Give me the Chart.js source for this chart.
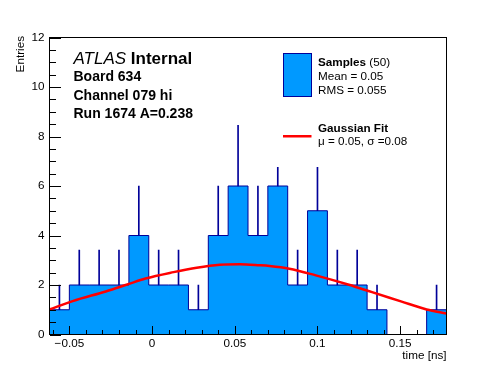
<!DOCTYPE html>
<html>
<head>
<meta charset="utf-8">
<script src="https://cdn.jsdelivr.net/npm/chart.js@4"></script>
<style>
  body { margin: 0; background: #fff; }
</style>
</head>
<body>
<canvas id="myChart" width="496" height="372"></canvas>
<script>
// histogram bins (time in ns)
const binEdges = [-0.062, -0.050, -0.038, -0.026, -0.014, -0.002, 0.010, 0.022, 0.034, 0.046,
  0.058, 0.070, 0.082, 0.094, 0.106, 0.118, 0.130, 0.142, 0.154, 0.166, 0.178];
const binCenters = [-0.056, -0.044, -0.032, -0.020, -0.008, 0.004, 0.016, 0.028, 0.040, 0.052,
  0.064, 0.076, 0.088, 0.100, 0.112, 0.124, 0.136, 0.148, 0.160, 0.172];
const counts = [1, 2, 2, 2, 4, 2, 2, 1, 4, 6, 4, 6, 2, 5, 2, 2, 1, 0, 0, 1];
const errTop = [2, 3.41, 3.41, 3.41, 6, 3.41, 3.41, 2, 6, 8.45, 6, 6.75, 3.41, 6.75, 3.41, 3.41, 2, null, null, 2];

// gaussian fit curve
const fitX = [-0.062, -0.048, -0.028, -0.015, -0.004, 0.013, 0.027, 0.041, 0.053, 0.065,
  0.071, 0.083, 0.099, 0.119, 0.133, 0.150, 0.166, 0.178];
const fitY = [1.01, 1.35, 1.74, 2.02, 2.26, 2.52, 2.70, 2.82, 2.84, 2.80,
  2.77, 2.66, 2.39, 2.01, 1.71, 1.35, 1.01, 0.85];

const xTicks = [-0.05, 0, 0.05, 0.1, 0.15];
const yTicks = [0, 2, 4, 6, 8, 10, 12];

const FONT = '"Liberation Sans", Arial, Helvetica, sans-serif';
const FILL = '#0099ff';
const LINE = '#000099';

const histData = binEdges.map((e, i) => ({ x: e, y: i < counts.length ? counts[i] : counts[counts.length - 1] }));
const errData = binCenters.map((c, i) => ({ x: c, y: errTop[i] == null ? null : [counts[i], errTop[i]] }));
const fitData = fitX.map((x, i) => ({ x: x, y: fitY[i] }));

const decorations = {
  id: 'decorations',
  afterDraw(chart) {
    const ctx = chart.ctx;
    const a = chart.chartArea;
    const xs = chart.scales.x, ys = chart.scales.y;
    ctx.save();
    ctx.fillStyle = '#000';
    // ticks inside the frame, minor every 0.01 / 0.5
    const bottom = Math.round(a.bottom), left = Math.round(a.left);
    for (let i = -6; i <= 17; i++) {
      const px = Math.round(xs.getPixelForValue(i / 100));
      const len = i % 5 === 0 ? 9 : 5;
      ctx.fillRect(px, bottom - len, 1, len);
    }
    for (let i = 0; i <= 24; i++) {
      const py = Math.round(ys.getPixelForValue(i / 2));
      const len = i % 4 === 0 ? 11 : 6;
      ctx.fillRect(left, py, len, 1);
    }
    ctx.strokeStyle = '#000';
    ctx.lineWidth = 1;
    ctx.strokeRect(a.left, a.top, a.right - a.left, a.bottom - a.top);

    // axis titles
    ctx.font = '11.7px ' + FONT;
    ctx.textAlign = 'right';
    ctx.textBaseline = 'alphabetic';
    ctx.fillText('time [ns]', a.right, 359);
    ctx.save();
    ctx.translate(24, 36);
    ctx.rotate(-Math.PI / 2);
    ctx.fillText('Entries', 0, 0);
    ctx.restore();

    // ATLAS label
    ctx.textAlign = 'left';
    ctx.font = 'italic 17px ' + FONT;
    ctx.fillText('ATLAS', 73.5, 64);
    const w = ctx.measureText('ATLAS ').width;
    ctx.font = 'bold 17px ' + FONT;
    ctx.fillText('Internal', 73.5 + w, 64);
    ctx.font = 'bold 14px ' + FONT;
    ctx.fillText('Board 634', 73.5, 81);
    ctx.fillText('Channel 079 hi', 73.5, 99.5);
    ctx.fillText('Run 1674 A=0.238', 73.5, 118);

    // legend
    ctx.fillStyle = FILL;
    ctx.fillRect(283.5, 53.5, 28, 43);
    ctx.strokeStyle = LINE;
    ctx.strokeRect(283.5, 53.5, 28, 43);
    ctx.fillStyle = '#000';
    ctx.font = 'bold 11.7px ' + FONT;
    ctx.fillText('Samples', 318, 66);
    const ws = ctx.measureText('Samples').width;
    ctx.font = '11.7px ' + FONT;
    ctx.fillText(' (50)', 318 + ws, 66);
    ctx.fillText('Mean = 0.05', 318, 80);
    ctx.fillText('RMS = 0.055', 318, 94);

    ctx.fillStyle = '#ff0000';
    ctx.fillRect(283, 135, 28.5, 2.5);
    ctx.fillStyle = '#000';
    ctx.font = 'bold 11.7px ' + FONT;
    ctx.fillText('Gaussian Fit', 318, 132);
    ctx.font = '11.7px ' + FONT;
    ctx.fillText('\u03bc = 0.05, \u03c3 =0.08', 318, 145);
    ctx.restore();
  }
};

const ctx = document.getElementById('myChart').getContext('2d');
const myChart = new Chart(ctx, {
  type: 'line',
  data: {
    datasets: [
      {
        label: 'Gaussian Fit',
        data: fitData,
        borderColor: '#ff0000',
        borderWidth: 2.5,
        pointRadius: 0,
        cubicInterpolationMode: 'monotone',
        fill: false,
        order: 0
      },
      {
        type: 'bar',
        label: 'errors',
        data: errData,
        backgroundColor: LINE,
        borderWidth: 0,
        barThickness: 1,
        grouped: false,
        order: 1
      },
      {
        label: 'Samples',
        data: histData,
        stepped: 'before',
        borderColor: LINE,
        borderWidth: 1,
        backgroundColor: FILL,
        fill: 'origin',
        pointRadius: 0,
        order: 2
      }
    ]
  },
  options: {
    responsive: false,
    animation: false,
    layout: { padding: { left: 0, top: 37.5, right: 49.5, bottom: 0 } },
    plugins: { legend: { display: false }, tooltip: { enabled: false } },
    scales: {
      x: {
        type: 'linear',
        min: binEdges[0],
        max: binEdges[binEdges.length - 1],
        offset: false,
        grid: { display: false, drawTicks: false },
        border: { display: false },
        afterFit(scale) { scale.height = 37.5; },
        afterBuildTicks(scale) { scale.ticks = xTicks.map(v => ({ value: v })); },
        ticks: {
          padding: 2,
          color: '#000',
          font: { family: FONT, size: 11.7 },
          maxRotation: 0,
          autoSkip: false,
          callback: v => String(Math.round(v * 1000) / 1000).replace('-', '\u2212')
        }
      },
      y: {
        min: 0,
        max: 12,
        grid: { display: false, drawTicks: false },
        border: { display: false },
        afterFit(scale) { scale.width = 49.5; },
        afterBuildTicks(scale) { scale.ticks = yTicks.map(v => ({ value: v })); },
        ticks: {
          padding: 5,
          color: '#000',
          font: { family: FONT, size: 11.7 }
        }
      }
    }
  },
  plugins: [decorations]
});
</script>
</body>
</html>
